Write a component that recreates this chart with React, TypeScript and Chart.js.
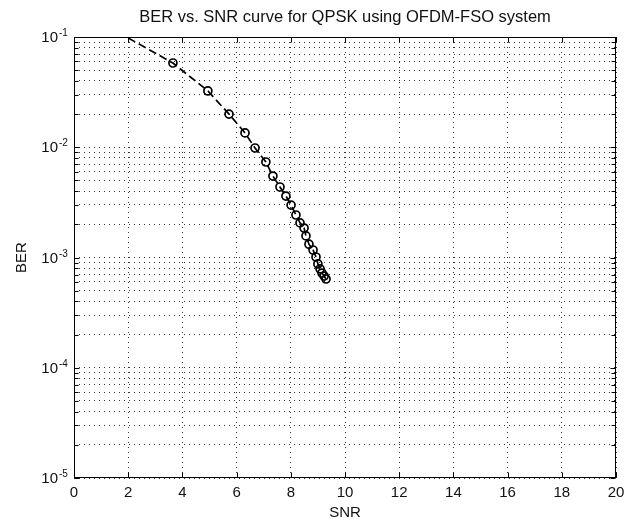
import React, { useEffect, useRef } from 'react';
import { Chart, registerables } from 'chart.js';

Chart.register(...registerables);

const TITLE = 'BER vs. SNR curve for QPSK using OFDM-FSO system';
const X_LABEL = 'SNR';
const Y_LABEL = 'BER';

// SNR values (x) and BER values (y)
const SNR = [2.0, 3.65, 4.94, 5.72, 6.31, 6.68, 7.08, 7.34, 7.6, 7.82, 8.01, 8.19, 8.34, 8.49, 8.56, 8.67, 8.82, 8.93, 9.0, 9.08, 9.15, 9.23, 9.3];
const BER = [0.098, 0.0581, 0.0324, 0.02, 0.0135, 0.00984, 0.00735, 0.00548, 0.00436, 0.00361, 0.00299, 0.00243, 0.00206, 0.00185, 0.00157, 0.00132, 0.00117, 0.00101, 0.000874, 0.000787, 0.000723, 0.000679, 0.000638];

const X_TICKS = [0, 2, 4, 6, 8, 10, 12, 14, 16, 18, 20];
const Y_MAJOR = [1e-5, 1e-4, 1e-3, 1e-2, 1e-1];
const Y_EXPONENTS = ['-5', '-4', '-3', '-2', '-1'];
const Y_MINOR_MULT = [2, 3, 4, 5, 6, 7, 8, 9];

const FONT = '"Liberation Sans", Arial, sans-serif';

const Y_MINOR: number[] = [];
Y_MAJOR.slice(0, -1).forEach((d) => Y_MINOR_MULT.forEach((m) => Y_MINOR.push(d * m)));
const Y_GRID = [...Y_MAJOR, ...Y_MINOR].sort((a, b) => a - b);

const matlabAxes = {
  id: 'matlabAxes',
  afterDraw(chart: any) {
    const { ctx, chartArea } = chart;
    const { left, right, top, bottom } = chartArea;
    const xs = chart.scales.x;
    const ys = chart.scales.y;
    ctx.save();
    ctx.strokeStyle = '#000';
    ctx.lineWidth = 1;
    ctx.setLineDash([]);
    const L = Math.round(left) + 0.5;
    const R = Math.round(right) - 0.5;
    const T = Math.round(top) + 0.5;
    const B = Math.round(bottom) - 0.5;
    ctx.strokeRect(L, T, R - L, B - T);
    ctx.beginPath();
    X_TICKS.forEach((v) => {
      const px = Math.round(xs.getPixelForValue(v)) + 0.5;
      ctx.moveTo(px, B);
      ctx.lineTo(px, B - 5);
      ctx.moveTo(px, T);
      ctx.lineTo(px, T + 5);
    });
    Y_GRID.forEach((v) => {
      const py = Math.round(ys.getPixelForValue(v)) + 0.5;
      const len = Y_MAJOR.includes(v) ? 5 : 4;
      ctx.moveTo(L, py);
      ctx.lineTo(L + len, py);
      ctx.moveTo(R, py);
      ctx.lineTo(R - len, py);
    });
    ctx.stroke();
    ctx.fillStyle = '#111';
    // title, centred over the plot area
    ctx.font = `16.5px ${FONT}`;
    ctx.textAlign = 'center';
    ctx.textBaseline = 'middle';
    ctx.fillText(TITLE, (left + right) / 2, 17);
    // y tick labels 10^n
    Y_MAJOR.forEach((v, i) => {
      const py = ys.getPixelForValue(v);
      ctx.font = `15px ${FONT}`;
      ctx.textAlign = 'right';
      ctx.textBaseline = 'middle';
      ctx.fillText('10', 58, py + 1);
      ctx.font = `10px ${FONT}`;
      ctx.textAlign = 'left';
      ctx.textBaseline = 'alphabetic';
      ctx.fillText(Y_EXPONENTS[i], 59, py - 1);
    });
    ctx.restore();
  },
};

export default function App() {
  const ref = useRef<HTMLCanvasElement>(null);
  useEffect(() => {
    if (!ref.current) return;
    const chart = new Chart(ref.current, {
      type: 'line',
      data: {
        datasets: [
          {
            data: SNR.map((x, i) => ({ x, y: BER[i] })),
            borderColor: '#000',
            borderWidth: 1.7,
            borderDash: [8, 4],
            backgroundColor: 'rgba(0,0,0,0)',
            pointBorderColor: '#000',
            pointBackgroundColor: 'rgba(0,0,0,0)',
            pointBorderWidth: 1.7,
            pointRadius: (c: any) => (c.dataIndex === 0 ? 0 : 4),
            tension: 0,
            fill: false,
          },
        ],
      },
      options: {
        responsive: false,
        animation: false,
        devicePixelRatio: 1,
        layout: { padding: { left: 0, right: 19, top: 37, bottom: 0 } },
        plugins: {
          legend: { display: false },
          tooltip: { enabled: false },
          title: { display: false },
        },
        scales: {
          x: {
            type: 'linear',
            min: 0,
            max: 20,
            afterBuildTicks: (s: any) => {
              s.ticks = X_TICKS.map((v) => ({ value: v }));
            },
            afterFit: (s: any) => {
              s.height = 43;
            },
            grid: { color: '#333', lineWidth: 1, drawTicks: false },
            border: { display: false, dash: [1, 4] },
            ticks: {
              color: '#111',
              font: { family: FONT, size: 15 },
              padding: 6,
              maxRotation: 0,
              autoSkip: false,
            },
            title: {
              display: true,
              text: X_LABEL,
              color: '#111',
              font: { family: FONT, size: 15, lineHeight: 1.1 },
              padding: { top: 0, bottom: 0 },
            },
          },
          y: {
            type: 'logarithmic',
            min: 1e-5,
            max: 1e-1,
            afterBuildTicks: (s: any) => {
              s.ticks = Y_GRID.map((v) => ({ value: v }));
            },
            afterFit: (s: any) => {
              s.width = 74;
            },
            grid: { color: '#333', lineWidth: 1, drawTicks: false },
            border: { display: false, dash: [1, 4] },
            ticks: { display: false },
            title: {
              display: true,
              text: Y_LABEL,
              color: '#111',
              font: { family: FONT, size: 15 },
              padding: { top: 13, bottom: 0 },
            },
          },
        },
      },
      plugins: [matlabAxes],
    } as any);
    return () => chart.destroy();
  }, []);
  return (
    <div style={{ position: 'absolute', left: 0, top: 0, width: 635, height: 521, background: '#fff' }}>
      <canvas ref={ref} width={635} height={521} style={{ display: 'block' }} />
    </div>
  );
}
